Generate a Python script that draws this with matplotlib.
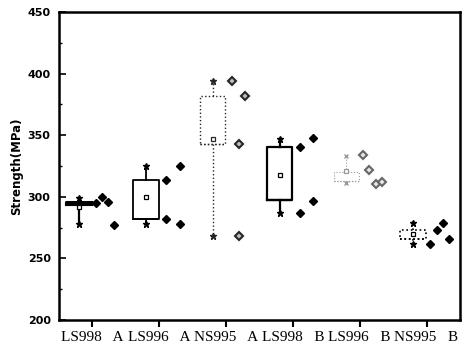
import matplotlib
matplotlib.use("Agg")
import matplotlib.pyplot as plt
import matplotlib.transforms as mtransforms

# groups along the x axis
labels = ["LS998   A", "LS996   A", "NS995   A", "LS998   B", "LS996   B", "NS995   B"]

# box statistics (MPa)
q1 = [294.5, 281.7, 342.9, 297.4, 313.0, 265.5]
q3 = [296.0, 313.6, 381.8, 340.2, 320.5, 273.0]
means = [292.0, 299.6, 346.7, 317.7, 321.0, 269.8]
whislo = [277.7, 277.7, 268.2, 287.1, 311.0, 261.7]
whishi = [299.3, 325.2, 394.0, 346.9, 333.1, 279.0]

# individual specimens shown beside each box
points = [
    [294.7, 299.6, 296.0, 277.1],
    [313.6, 281.7, 325.2, 277.7],
    [394.0, 381.6, 342.6, 268.2],
    [340.7, 347.4, 286.6, 296.9],
    [333.9, 321.8, 310.4, 311.8],
    [261.4, 273.0, 279.0, 266.0],
]
jitter = [
    [0.05, 0.14, 0.23, 0.33],
    [0.10, 0.10, 0.31, 0.31],
    [0.09, 0.29, 0.19, 0.20],
    [0.11, 0.30, 0.11, 0.30],
    [0.05, 0.14, 0.24, 0.33],
    [0.05, 0.15, 0.24, 0.34],
]

# per-group look: (box colour, box lw, box style, whisker marker, point face, point edge)
styles = [
    ("black", 2.2, "-", "*", "black", "black"),
    ("black", 1.3, "-", "*", "black", "black"),
    ("0.15", 1.0, ":", "*", "0.75", "0.15"),
    ("black", 1.6, "-", "*", "black", "black"),
    ("0.6", 0.8, ":", "x", "0.9", "0.4"),
    ("black", 1.2, ":", "*", "black", "black"),
]

fig = plt.figure(figsize=(4.66, 3.51), dpi=100)
ax = fig.add_axes([0.1266, 0.0883, 0.8604, 0.8775])

for i in range(6):
    col, lw, ls, wm, pfc, pec = styles[i]
    pos = i + 1 - 0.2
    stats = [{"med": q1[i], "q1": q1[i], "q3": q3[i], "whislo": whislo[i],
              "whishi": whishi[i], "mean": means[i], "fliers": []}]
    ax.bxp(stats, positions=[pos], widths=0.38, showcaps=False, showfliers=False,
           showmeans=True, manage_ticks=False,
           boxprops=dict(color=col, lw=lw, ls=ls),
           whiskerprops=dict(color=col, lw=min(lw, 1.6), ls=ls),
           medianprops=dict(color=col, lw=lw, ls=ls),
           meanprops=dict(marker="s", mfc="white", mec=col, ms=3, mew=0.9))
    ax.plot([pos, pos], [whislo[i], whishi[i]], ls="none", marker=wm,
            color=col, ms=5 if wm == "*" else 3.5, mew=1)
    xs = [i + 1 + d for d in jitter[i]]
    ax.plot(xs, points[i], ls="none", marker="D", ms=4.4, mfc=pfc, mec=pec,
            mew=1.5 if pfc != "black" else 1)

ax.set_xlim(0.5, 6.5)
ax.set_ylim(200, 450)
ax.set_xticks(range(1, 7))
ax.set_xticklabels(labels, family="Liberation Serif", fontsize=11)
offset = mtransforms.ScaledTranslation(7 / 100, 0, fig.dpi_scale_trans)
for lab in ax.get_xticklabels():
    lab.set_transform(lab.get_transform() + offset)
ax.set_yticks([200, 250, 300, 350, 400, 450])
ax.set_yticks([225, 275, 325, 375, 425], minor=True)
for lab in ax.get_yticklabels():
    lab.set_fontweight("bold")
    lab.set_fontsize(8)
ax.tick_params(axis="x", direction="out", length=5, width=1.5, pad=3)
ax.tick_params(axis="y", which="major", direction="in", length=5, width=1.2, pad=6)
ax.tick_params(axis="y", which="minor", direction="in", length=2.5, width=1)
for sp in ax.spines.values():
    sp.set_linewidth(1.8)
ax.set_ylabel("Strength(MPa)", fontsize=8.5, fontweight="bold", labelpad=3)

fig.savefig("out.png", dpi=100)
